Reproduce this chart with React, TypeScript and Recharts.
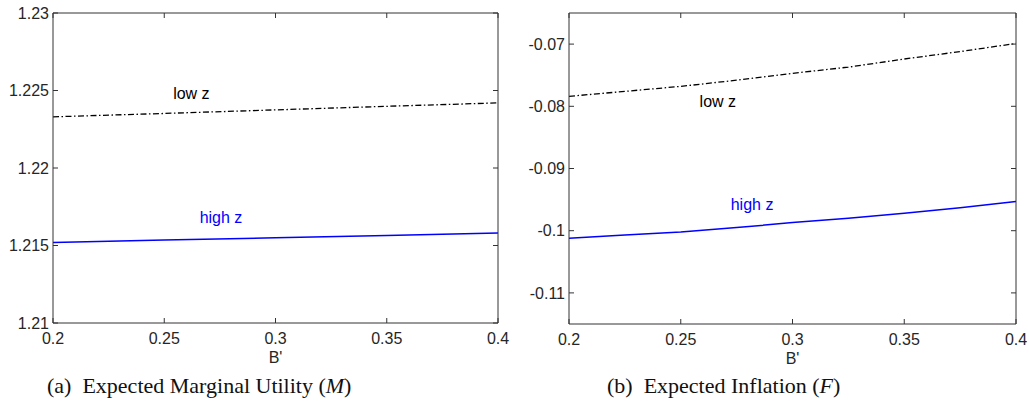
import React from 'react';
import { LineChart, Line, XAxis, YAxis, ReferenceDot } from 'recharts';

// tick values of B' (both panels)
const bTicks = [0.2, 0.25, 0.3, 0.35, 0.4];

// panel (a): expected marginal utility
const muB = [0.2, 0.25, 0.3, 0.35, 0.4];
const muLowZ = [1.2233, 1.22352, 1.22375, 1.22398, 1.2242];
const muHighZ = [1.2152, 1.21535, 1.2155, 1.21565, 1.2158];
const muTicks = [1.21, 1.215, 1.22, 1.225, 1.23];

// panel (b): expected inflation
const inflB = [0.2, 0.225, 0.25, 0.275, 0.3, 0.325, 0.35, 0.375, 0.4];
const inflLowZ = [-0.0784, -0.0776, -0.0768, -0.0758, -0.0747, -0.0737, -0.0724, -0.0712, -0.0699];
const inflHighZ = [-0.1012, -0.1007, -0.1002, -0.0995, -0.0987, -0.098, -0.0972, -0.0963, -0.0953];
const inflTicks = [-0.11, -0.1, -0.09, -0.08, -0.07];

// text annotations
const muNotes = [
  { b: 0.2622, v: 1.22485, text: 'low z', color: '#000000' },
  { b: 0.2755, v: 1.21683, text: 'high z', color: '#0000ff' },
];
const inflNotes = [
  { b: 0.2666, v: -0.0792, text: 'low z', color: '#000000' },
  { b: 0.2819, v: -0.0958, text: 'high z', color: '#0000ff' },
];

const toRows = (xs: number[], low: number[], high: number[]) =>
  xs.map((b, i) => ({ b, low: low[i], high: high[i] }));

const AXIS = '#333333';
const SANS = 'Liberation Sans, Arial, sans-serif';
const tickFont = { fontSize: 16, fill: '#262626', fontFamily: SANS };

interface PanelProps {
  data: any[];
  yDomain: [number, number];
  yTicks: number[];
  notes: { b: number; v: number; text: string; color: string }[];
  width: number;
  height: number;
  marginRight: number;
}

// MATLAB-style box: ticks point inward on all four sides
const Panel: React.FC<PanelProps> = ({ data, yDomain, yTicks, notes, width, height, marginRight }) => (
  <LineChart width={width} height={height} data={data} margin={{ top: 12, right: marginRight, left: 0, bottom: 0 }}>
    <XAxis
      xAxisId="b"
      dataKey="b"
      type="number"
      domain={[0.2, 0.4]}
      ticks={bTicks}
      height={42}
      stroke={AXIS}
      tickSize={-5}
      tickMargin={15}
      tick={tickFont}
      allowDataOverflow
      label={{ value: "B'", position: 'insideBottom', offset: 2, ...tickFont }}
    />
    <XAxis
      xAxisId="t"
      dataKey="b"
      orientation="top"
      type="number"
      domain={[0.2, 0.4]}
      ticks={bTicks}
      height={1}
      tickSize={-5}
      tickFormatter={() => ''}
      stroke={AXIS}
      allowDataOverflow
    />
    <YAxis
      yAxisId="l"
      type="number"
      domain={yDomain}
      ticks={yTicks}
      width={53}
      stroke={AXIS}
      tickSize={-5}
      tickMargin={9}
      tick={tickFont}
      allowDataOverflow
    />
    <YAxis
      yAxisId="r"
      orientation="right"
      type="number"
      domain={yDomain}
      ticks={yTicks}
      width={1}
      tickSize={-5}
      tickFormatter={() => ''}
      stroke={AXIS}
      allowDataOverflow
    />
    <Line xAxisId="b" yAxisId="l" dataKey="low" stroke="#000000" strokeWidth={1.3} strokeDasharray="6 2.5 1.5 2.5" dot={false} isAnimationActive={false} />
    <Line xAxisId="t" yAxisId="r" dataKey="high" stroke="#0000ff" strokeWidth={1.5} dot={false} isAnimationActive={false} />
    {notes.map((n) => (
      <ReferenceDot
        key={n.text}
        xAxisId="b"
        yAxisId="l"
        x={n.b}
        y={n.v}
        r={0}
        fill="none"
        stroke="none"
        label={{ value: n.text, position: 'center', fill: n.color, fontSize: 16, fontFamily: SANS }}
      />
    ))}
  </LineChart>
);

const captionStyle: React.CSSProperties = {
  position: 'absolute',
  top: 373,
  fontFamily: '"Liberation Serif", "DejaVu Serif", serif',
  fontSize: 22,
  lineHeight: '26px',
  color: '#111',
  whiteSpace: 'pre',
};

export default function App() {
  return (
    <div style={{ position: 'relative', width: 1029, height: 415, background: '#fff', overflow: 'hidden' }}>
      <style>{'body{margin:0}'}</style>
      <div style={{ position: 'absolute', left: 0, top: 0 }}>
        <Panel data={toRows(muB, muLowZ, muHighZ)} yDomain={[1.21, 1.23]} yTicks={muTicks} notes={muNotes} width={510} height={365} marginRight={11} />
      </div>
      <div style={{ position: 'absolute', left: 516, top: 0 }}>
        <Panel data={toRows(inflB, inflLowZ, inflHighZ)} yDomain={[-0.115, -0.065]} yTicks={inflTicks} notes={inflNotes} width={513} height={366} marginRight={12} />
      </div>
      <div style={{ ...captionStyle, left: 47 }}>
        (a)  Expected Marginal Utility (<i>M</i>)
      </div>
      <div style={{ ...captionStyle, left: 607 }}>
        (b)  Expected Inflation (<i>F</i>)
      </div>
    </div>
  );
}
